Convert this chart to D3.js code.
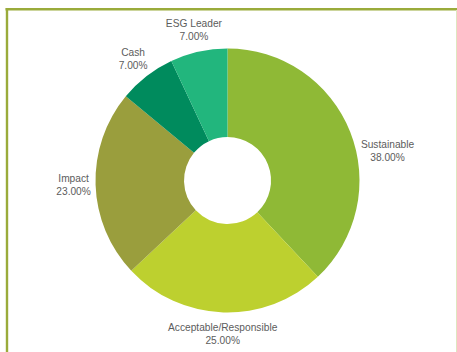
<!DOCTYPE html>
<html>
<head>
<meta charset="utf-8">
<script src="https://cdn.jsdelivr.net/npm/d3@7"></script>
<style>
  body { margin: 0; background: #fff; }
  svg { display: block; }
</style>
</head>
<body>
<svg id="chart" width="457" height="352"></svg>
<script>
var categories = ["Sustainable", "Acceptable/Responsible", "Impact", "Cash", "ESG Leader"];
var shares = [38, 25, 23, 7, 7];
var sliceColors = ["#8fb936", "#bdd02f", "#9a9e3d", "#008b5d", "#22b67d"];

var svg = d3.select("#chart");
var width = +svg.attr("width"),
    height = +svg.attr("height");

// panel frame: heavy olive on top/left, faint line on the right
svg.append("line")
    .attr("x1", 5.5).attr("x2", width)
    .attr("y1", 9.3).attr("y2", 9.3)
    .attr("stroke", "#9aab3b").attr("stroke-width", 2.6);
svg.append("line")
    .attr("x1", 7).attr("x2", 7)
    .attr("y1", 8).attr("y2", height)
    .attr("stroke", "#9aab3b").attr("stroke-width", 2.4);
svg.append("line")
    .attr("x1", 456.5).attr("x2", 456.5)
    .attr("y1", 10).attr("y2", height)
    .attr("stroke", "#dfe6bf").attr("stroke-width", 1);

var cx = 227.5, cy = 180.5;
var outerR = 132, innerR = 43.5, labelR = 154;

var pie = d3.pie().sort(null).value(function(d) { return d; });
var arc = d3.arc().innerRadius(innerR).outerRadius(outerR);

var data = pie(shares);

var g = svg.append("g").attr("transform", "translate(" + cx + "," + cy + ")");

g.selectAll("path")
    .data(data)
    .enter().append("path")
    .attr("d", arc)
    .attr("fill", function(d, i) { return sliceColors[i]; });

// two-line labels set out along each slice's middle angle
var labels = g.selectAll("text.lbl")
    .data(data)
    .enter().append("text")
    .attr("class", "lbl")
    .attr("text-anchor", "middle")
    .attr("font-family", "Liberation Sans, Arial, sans-serif")
    .attr("font-size", "10.2px")
    .attr("fill", "#5c5c5c");

labels.append("tspan")
    .attr("x", 0).attr("y", -3)
    .text(function(d, i) { return categories[i]; });
labels.append("tspan")
    .attr("x", 0).attr("y", 10)
    .text(function(d) { return d.value.toFixed(2) + "%"; });

// nudge a label round and outward while its box still touches the ring
function nearestDist(b, x, y) {
  var nx = Math.max(b.x + x, Math.min(0, b.x + x + b.width));
  var ny = Math.max(b.y + y, Math.min(0, b.y + y + b.height));
  return Math.sqrt(nx * nx + ny * ny);
}

labels.each(function(d) {
  var b = this.getBBox();
  var a = (d.startAngle + d.endAngle) / 2;
  var r = labelR;
  var side = Math.sin(a) >= 0 ? 1 : -1;
  var toward = side > 0 ? Math.PI / 2 : 3 * Math.PI / 2;
  var x = r * Math.sin(a), y = -r * Math.cos(a);
  var steps = 0;
  while (nearestDist(b, x, y) < outerR + 2 && steps < 40) {
    a += (toward > a ? 1 : -1) * Math.PI / 180;
    r += 0.8;
    x = r * Math.sin(a); y = -r * Math.cos(a);
    steps++;
  }
  d3.select(this).attr("transform", "translate(" + x + "," + y + ")");
});
</script>
</body>
</html>
